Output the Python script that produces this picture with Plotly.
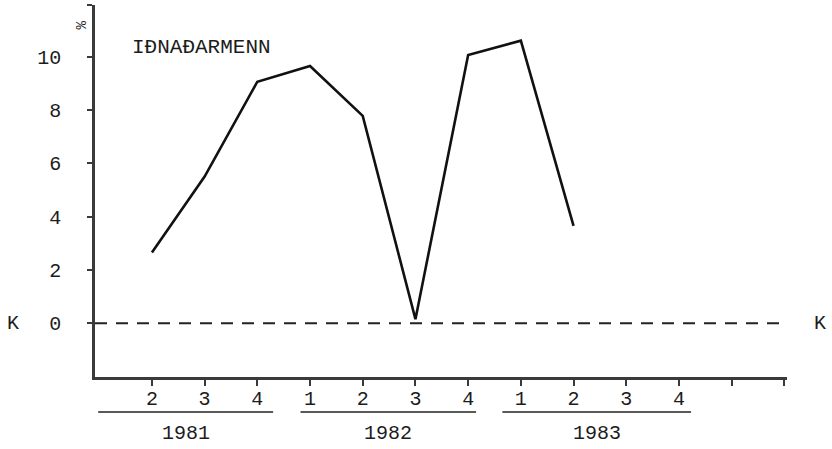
import plotly.graph_objects as go

# ---- data ----
quarter_labels = ["2", "3", "4", "1", "2", "3", "4", "1", "2", "3", "4"]
values = [2.65, 5.5, 9.06, 9.65, 7.78, 0.15, 10.06, 10.6, 3.65]
years = ["1981", "1982", "1983"]
y_tick_vals = [0, 2, 4, 6, 8, 10]
series_label = "IÐNAÐARMENN"

# ---- style / layout constants ----
FONT = "Liberation Mono"
INK = "#1c1c1c"
AXIS = "#3a3a3a"
year_line_spans = [(-1.02, 2.3), (2.82, 6.15), (6.65, 10.23)]

x_idx = list(range(len(values)))
tick_idx = list(range(len(quarter_labels) + 2))
tick_txt = quarter_labels + ["", ""]

fig = go.Figure()
fig.add_trace(go.Scatter(
    x=x_idx, y=values, mode="lines",
    line=dict(color="#111111", width=2.6),
    showlegend=False, hoverinfo="skip",
))

# dashed zero line
fig.add_shape(type="line", xref="paper", yref="y", x0=0, x1=1, y0=0, y1=0,
              line=dict(color="#222222", width=2, dash="12px,9px"))

# year underlines + labels
for yr, (a, b) in zip(years, year_line_spans):
    fig.add_shape(type="line", xref="x", yref="paper", x0=a, x1=b,
                  y0=-0.094, y1=-0.094, line=dict(color="#222222", width=1.5))
    fig.add_annotation(x=(a + b) / 2, y=-0.153, xref="x", yref="paper",
                       text=yr, showarrow=False, xanchor="center", yanchor="middle",
                       font=dict(family=FONT, size=20, color=INK))

# K labels
fig.add_annotation(x=-0.1185, y=0, xref="paper", yref="y", text="K", showarrow=False,
                   xanchor="center", yanchor="middle", font=dict(family=FONT, size=20, color=INK))
fig.add_annotation(x=1.0477, y=0, xref="paper", yref="y", text="K", showarrow=False,
                   xanchor="center", yanchor="middle", font=dict(family=FONT, size=20, color=INK))

# percent sign
fig.add_annotation(x=-0.019, y=11.2, xref="paper", yref="y", text="%", showarrow=False,
                   textangle=-90, xanchor="center", yanchor="middle",
                   font=dict(family=FONT, size=14, color=INK))

# series label
fig.add_annotation(x=-0.42, y=10.33, xref="x", yref="y", text=series_label, showarrow=False,
                   xanchor="left", yanchor="middle", font=dict(family=FONT, size=21, color=INK))

fig.update_layout(
    width=832, height=449,
    margin=dict(l=95, r=45, t=5, b=72),
    paper_bgcolor="white", plot_bgcolor="white",
    font=dict(family=FONT, size=20, color=INK),
    xaxis=dict(range=[-1.08, 12.05], tickvals=tick_idx, ticktext=tick_txt,
               showgrid=False, zeroline=False, showline=True, linecolor=AXIS, linewidth=2.5,
               ticks="outside", ticklen=6, tickwidth=2, tickcolor=AXIS,
               ticklabelstandoff=-5,
               tickfont=dict(family=FONT, size=20, color=INK)),
    yaxis=dict(range=[-2.02, 11.94], tickvals=y_tick_vals + [11.94],
               ticktext=[str(v) for v in y_tick_vals] + [""],
               showgrid=False, zeroline=False, showline=True, linecolor=AXIS, linewidth=2.5,
               ticks="outside", ticklen=5, tickwidth=2, tickcolor=AXIS,
               ticklabelstandoff=22,
               tickfont=dict(family=FONT, size=20, color=INK)),
)

fig.write_html("out.html", config={"displayModeBar": False},
               post_script="document.body.style.margin='0';document.body.style.overflow='hidden';")
